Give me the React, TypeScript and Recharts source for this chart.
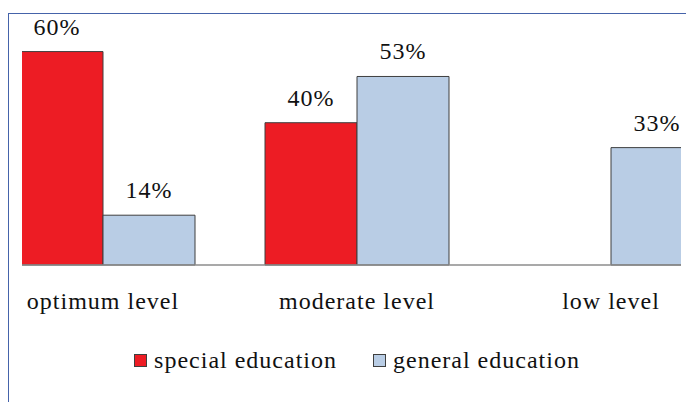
import { BarChart, Bar, XAxis, YAxis, Legend, LabelList } from 'recharts';

const levels = ['optimum level', 'moderate level', 'low level'];
const specialEducation = [60, 40, null];
const generalEducation = [14, 53, 33];

const RED = '#ED1C24';
const BLUE = '#B9CDE5';
const OUTLINE = '#3f3f3f';
const FONT = "'Times New Roman', 'Liberation Serif', 'DejaVu Serif', serif";

const data = levels.map((level, i) => ({
  level,
  special: specialEducation[i],
  general: generalEducation[i],
}));

const series = [
  { key: 'special', name: 'special education', color: RED },
  { key: 'general', name: 'general education', color: BLUE },
];

const textStyle = { fontFamily: FONT, fontSize: 24, fill: '#111', letterSpacing: 1 };

function LegendContent() {
  return (
    <div
      style={{
        height: 40,
        display: 'flex',
        justifyContent: 'center',
        alignItems: 'center',
        fontFamily: FONT,
        fontSize: 24,
        letterSpacing: 1,
        color: '#111',
      }}
    >
      {series.map((s, i) => (
        <div key={s.key} style={{ display: 'flex', alignItems: 'center', marginLeft: i ? 36 : 0 }}>
          <span
            style={{
              width: 11,
              height: 11,
              background: s.color,
              border: `1px solid ${OUTLINE}`,
              marginRight: 7,
              display: 'inline-block',
            }}
          />
          <span>{s.name}</span>
        </div>
      ))}
    </div>
  );
}

const pct = (v: any) => (v == null ? '' : `${v}%`);

export default function App() {
  return (
    <div
      style={{
        position: 'absolute',
        left: 0,
        top: 0,
        width: 686,
        height: 402,
        overflow: 'hidden',
        background: '#fff',
        fontFamily: FONT,
      }}
    >
      {/* frame */}
      <div
        style={{
          position: 'absolute',
          left: 8,
          top: 13,
          width: 800,
          height: 500,
          borderTop: '1.5px solid #4563aa',
          borderLeft: '1.5px solid #4563aa',
        }}
      />
      <div style={{ position: 'absolute', left: 22, top: 0, width: 659, height: 402, overflow: 'hidden' }}>
        <BarChart
          width={762}
          height={380}
          data={data}
          margin={{ top: 16, right: 0, bottom: 0, left: 0 }}
          barGap={0}
          style={{ position: 'absolute', left: -46, top: 0 }}
        >
          <YAxis hide domain={[0, 70]} />
          <XAxis
            dataKey="level"
            height={75}
            tickLine={false}
            tickSize={0}
            tickMargin={27}
            axisLine={{ stroke: '#8c8c8c', strokeWidth: 1.5 }}
            tick={textStyle}
            interval={0}
          />
          <Legend verticalAlign="bottom" content={<LegendContent />} />
          {series.map((s) => (
            <Bar
              key={s.key}
              dataKey={s.key}
              name={s.name}
              fill={s.color}
              stroke={OUTLINE}
              strokeWidth={1}
              barSize={92}
              isAnimationActive={false}
            >
              <LabelList dataKey={s.key} position="top" offset={17} formatter={pct} style={textStyle} />
            </Bar>
          ))}
        </BarChart>
      </div>
    </div>
  );
}
